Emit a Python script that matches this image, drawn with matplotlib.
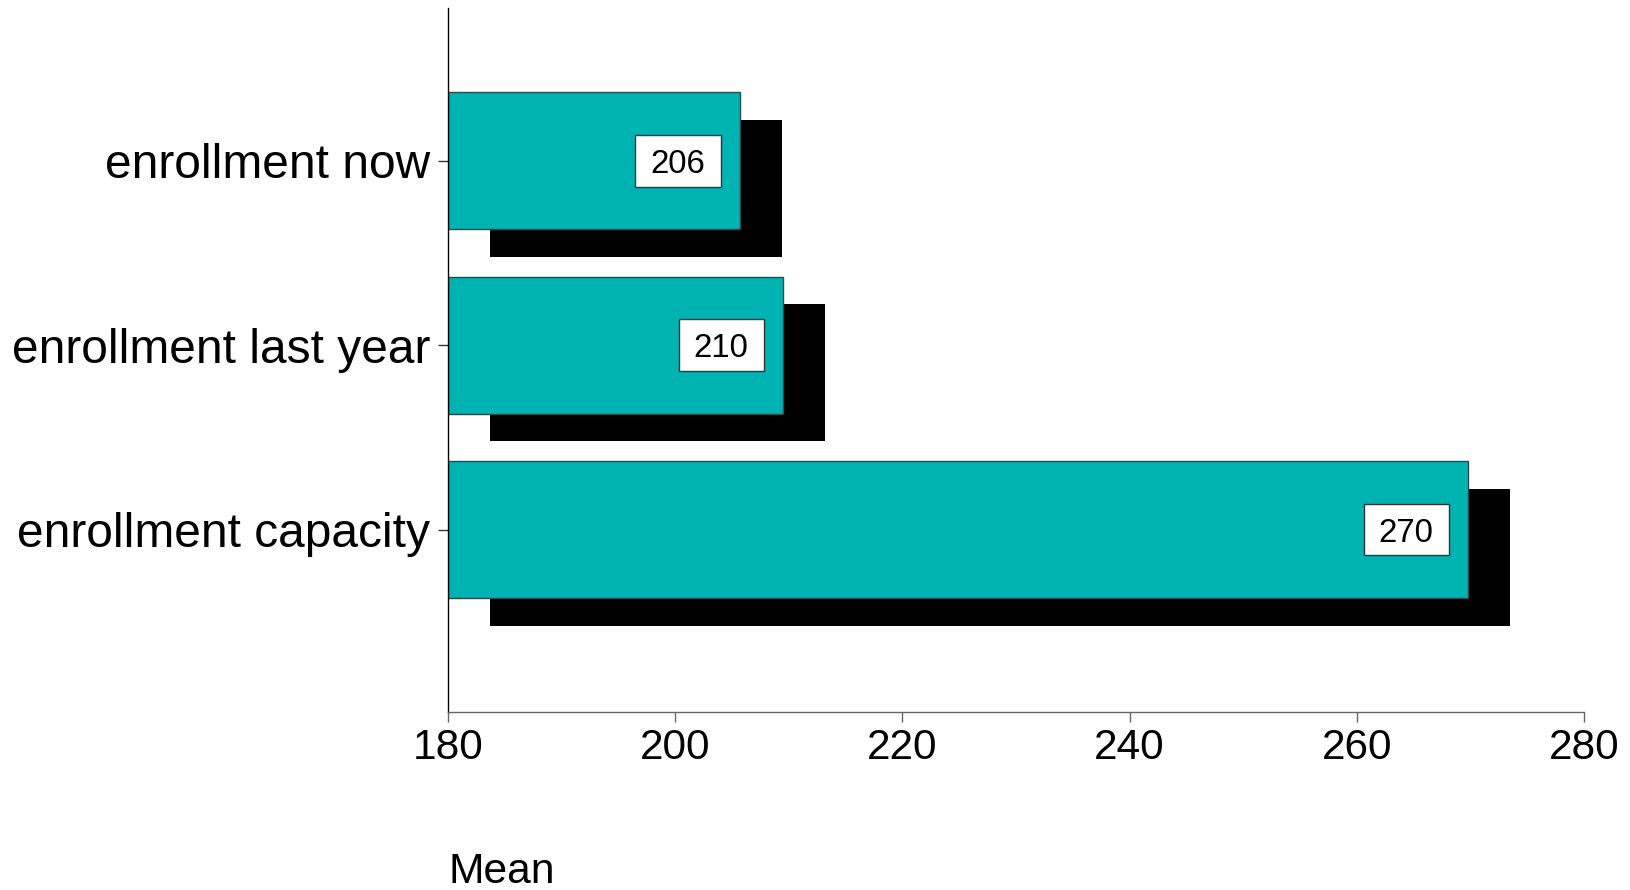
import matplotlib
matplotlib.use("Agg")
import matplotlib.pyplot as plt
from matplotlib.patches import Rectangle

plt.rcParams['font.family'] = ['Liberation Sans', 'DejaVu Sans']

categories = ["enrollment now", "enrollment last year", "enrollment capacity"]
means = [205.7, 209.5, 269.8]
xticks = [180, 200, 220, 240, 260, 280]

fig = plt.figure(figsize=(16.3, 8.9), dpi=100)
ax = fig.add_axes([448/1630, 1-712/890, (1584-448)/1630, (712-8)/890])

ypos = list(range(len(categories)))
base = 180
bar_h = 0.743
sh_dx, sh_dy = 3.7, 0.15

# shadow bars
ax.barh([y + sh_dy for y in ypos], [m - base for m in means], left=base + sh_dx,
        height=bar_h, color='black', zorder=1)
# main bars
ax.barh(ypos, [m - base for m in means], left=base, height=bar_h,
        color='#00B3B3', edgecolor='#2a4a4a', linewidth=1.0, zorder=2)

box_w, box_h, gap = 7.5, 0.28, 1.7
for y, m in zip(ypos, means):
    x1 = m - gap
    ax.add_patch(Rectangle((x1 - box_w, y - box_h/2), box_w, box_h,
                           facecolor='white', edgecolor='#333333', linewidth=1.0, zorder=3))
    ax.text(x1 - box_w/2, y, f"{m:.0f}", ha='center', va='center_baseline',
            fontsize=23.8, color='black', zorder=4)

ax.set_xlim(180, 280)
ax.set_ylim(2.99, -0.83)
ax.set_xticks(xticks)
ax.set_xticklabels([str(t) for t in xticks])
ax.set_yticks(ypos)
ax.set_yticklabels(categories)

ax.tick_params(axis='x', labelsize=30.5, length=7.5, width=1, color='#666666', pad=4)
ax.tick_params(axis='y', labelsize=34.5, length=7.5, width=1, color='#333333', pad=5.5)
for s in ['top', 'right']:
    ax.spines[s].set_visible(False)
ax.spines['left'].set_color('black')
ax.spines['bottom'].set_color('#666666')
ax.spines['left'].set_linewidth(1)
ax.spines['bottom'].set_linewidth(1)

fig.text(448/1630, 1-883/890, "Mean", fontsize=30.7, ha='left', va='baseline')

fig.savefig("out.png", dpi=100)
